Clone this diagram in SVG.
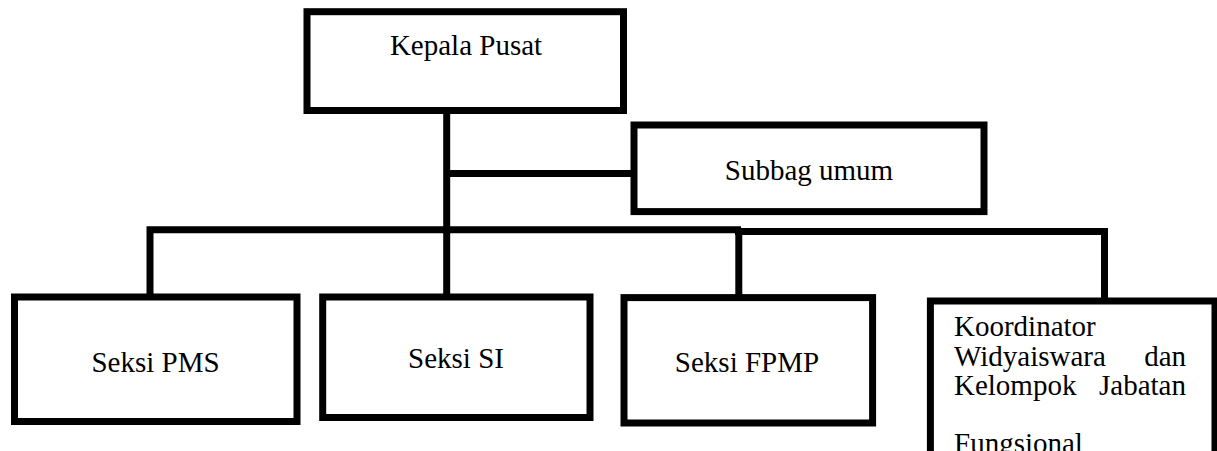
<svg xmlns="http://www.w3.org/2000/svg" width="1217" height="451" viewBox="0 0 1217 451">
<style>
.box{fill:#fff;stroke:#000;stroke-width:7}
.ln{fill:none;stroke:#000;stroke-width:7}
.t{font-family:'Liberation Serif','Times New Roman','DejaVu Serif',serif;font-size:29px;fill:#000}
</style>
<rect width="1217" height="451" fill="#fff"/>
<g id="connectors">
<line class="ln" x1="446.7" y1="110" x2="446.7" y2="297"/>
<line class="ln" x1="446.7" y1="173.5" x2="634" y2="173.5"/>
<polyline class="ln" points="150,297 150,229.7 741,229.7"/>
<polyline class="ln" points="735,231.5 1104.5,231.5 1104.5,301"/>
<line class="ln" x1="738.8" y1="231" x2="738.8" y2="297.6"/>
</g>
<g id="kepala">
<rect class="box" x="307" y="11.7" width="316.5" height="98.8"/>
<text class="t" x="466" y="55" text-anchor="middle">Kepala Pusat</text>
</g>
<g id="subbag">
<rect class="box" x="634" y="125" width="350" height="86.6"/>
<text class="t" x="809" y="180" text-anchor="middle">Subbag umum</text>
</g>
<g id="pms">
<rect class="box" x="14.5" y="297" width="282.5" height="124.5"/>
<text class="t" x="155.5" y="372" text-anchor="middle">Seksi PMS</text>
</g>
<g id="si">
<rect class="box" x="322.7" y="297" width="267.3" height="120.5"/>
<text class="t" x="456" y="368" text-anchor="middle">Seksi SI</text>
</g>
<g id="fpmp">
<rect class="box" x="624" y="297.6" width="248.6" height="125.4"/>
<text class="t" x="747" y="372" text-anchor="middle">Seksi FPMP</text>
</g>
<g id="koordinator">
<rect class="box" x="930.4" y="301" width="284.6" height="170"/>
<text class="t" x="954" y="336">Koordinator</text>
<text class="t" x="954" y="366">Widyaiswara</text>
<text class="t" x="1186" y="366" text-anchor="end">dan</text>
<text class="t" x="954" y="395">Kelompok</text>
<text class="t" x="1186" y="395" text-anchor="end">Jabatan</text>
<text class="t" x="954" y="453">Fungsional</text>
</g>
</svg>
